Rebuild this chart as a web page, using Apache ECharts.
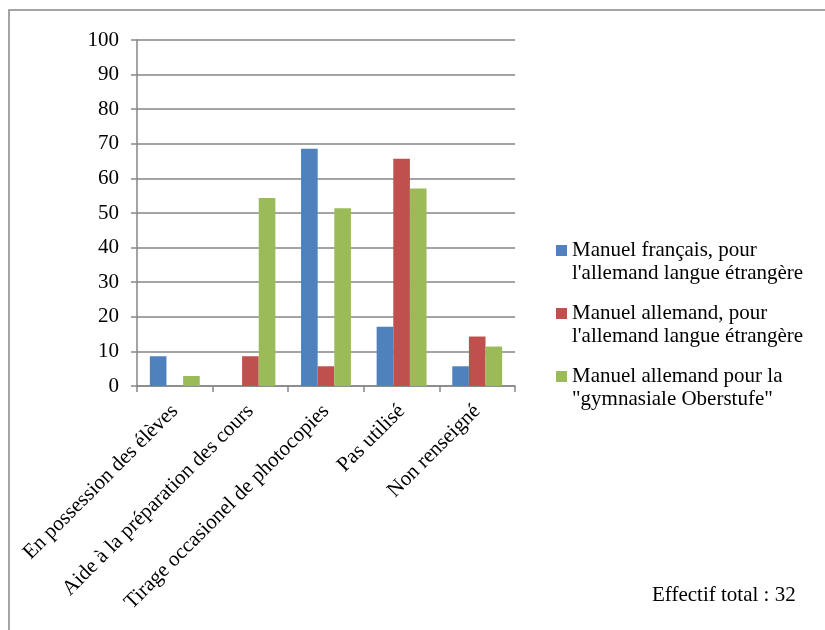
<!DOCTYPE html>
<html>
<head>
<meta charset="utf-8">
<script src="https://cdn.jsdelivr.net/npm/echarts@6/dist/echarts.min.js"></script>
<style>
  html, body { margin: 0; padding: 0; background: #fff; }
  #chart { width: 825px; height: 630px; }
</style>
</head>
<body>
<div id="chart"></div>
<script>
// Usage of each textbook, in percent of respondents
const categories = [
  'En possession des élèves',
  'Aide à la préparation des cours',
  'Tirage occasionel de photocopies',
  'Pas utilisé',
  'Non renseigné'
];
const manuelFrancais = [8.6, 0, 68.6, 17.1, 5.7];
const manuelAllemandDaF = [0, 8.6, 5.7, 65.7, 14.3];
const manuelAllemandGymnase = [2.9, 54.3, 51.4, 57.1, 11.4];

const seriesNames = [
  "Manuel français, pour\nl'allemand langue étrangère",
  "Manuel allemand, pour\nl'allemand langue étrangère",
  "Manuel allemand pour la\n\"gymnasiale Oberstufe\""
];
const yTicks = { min: 0, max: 100, interval: 10 };
const footnote = 'Effectif total : 32';

const FONT = 'Liberation Serif';
const FONT_SIZE = 21;
const GRID_GRAY = '#868686';

// Legend marker: square on the first text line, with an invisible anchor
// point at the bottom so the marker box spans the two-line label.
const LEGEND_ICON = 'path://M0,0L11,0L11,11L0,11Z M0,34L0.01,34L0.01,34.01Z';

const chart = echarts.init(document.getElementById('chart'), null, { renderer: 'canvas' });

chart.setOption({
  backgroundColor: '#ffffff',
  animation: false,
  textStyle: { fontFamily: FONT, color: '#000' },
  grid: { left: 137, right: 310, top: 40, bottom: 244, containLabel: false },
  legend: {
    orient: 'vertical',
    left: 551,
    top: 234,
    itemWidth: 11,
    itemHeight: 34,
    itemGap: 17,
    icon: LEGEND_ICON,
    selectedMode: false,
    textStyle: {
      fontFamily: FONT,
      fontSize: FONT_SIZE,
      lineHeight: 23,
      color: '#000'
    },
    data: seriesNames
  },
  xAxis: {
    type: 'category',
    data: categories,
    boundaryGap: true,
    axisLine: { lineStyle: { color: GRID_GRAY, width: 1.5 } },
    axisTick: { show: true, length: 6, lineStyle: { color: GRID_GRAY, width: 1.5 } },
    axisLabel: {
      rotate: 45,
      margin: 22,
      interval: 0,
      fontFamily: FONT,
      fontSize: FONT_SIZE,
      color: '#000'
    }
  },
  yAxis: {
    type: 'value',
    min: yTicks.min,
    max: yTicks.max,
    interval: yTicks.interval,
    axisLine: { show: true, lineStyle: { color: GRID_GRAY, width: 1.5 } },
    axisTick: { show: true, length: 6, lineStyle: { color: GRID_GRAY, width: 1.5 } },
    splitLine: { show: true, lineStyle: { color: GRID_GRAY, width: 1.5 } },
    axisLabel: {
      margin: 18,
      fontFamily: FONT,
      fontSize: FONT_SIZE,
      color: '#000'
    }
  },
  series: [
    {
      name: seriesNames[0],
      type: 'bar',
      data: manuelFrancais,
      itemStyle: { color: '#4F81BD' },
      barGap: '0%',
      barCategoryGap: '34%'
    },
    {
      name: seriesNames[1],
      type: 'bar',
      data: manuelAllemandDaF,
      itemStyle: { color: '#C0504D' },
      barGap: '0%',
      barCategoryGap: '34%'
    },
    {
      name: seriesNames[2],
      type: 'bar',
      data: manuelAllemandGymnase,
      itemStyle: { color: '#9BBB59' },
      barGap: '0%',
      barCategoryGap: '34%'
    }
  ],
  graphic: [
    {
      type: 'rect',
      silent: true,
      shape: { x: 9, y: 10, width: 900, height: 700 },
      style: { fill: 'none', stroke: GRID_GRAY, lineWidth: 1.5 },
      z: -1
    },
    {
      type: 'text',
      left: 652,
      top: 585,
      style: {
        text: footnote,
        fontFamily: FONT,
        fontSize: FONT_SIZE,
        fill: '#000'
      }
    }
  ]
});
</script>
</body>
</html>
